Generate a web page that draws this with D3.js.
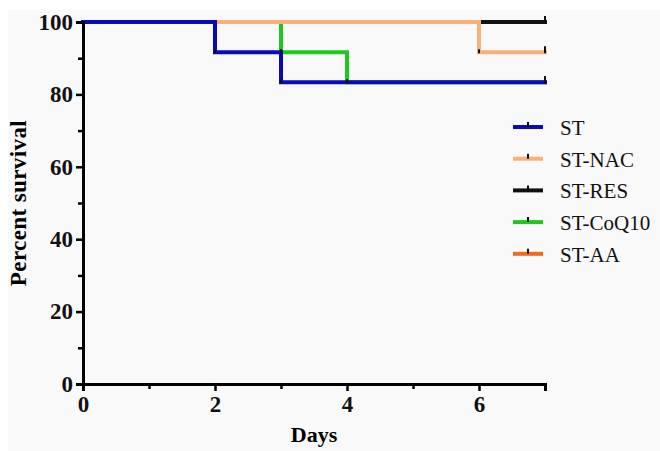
<!DOCTYPE html>
<html>
<head>
<meta charset="utf-8">
<script src="https://cdn.jsdelivr.net/npm/d3@7"></script>
<style>
  body { margin: 0; background: #fff; }
  text { font-family: "Liberation Serif", "DejaVu Serif", serif; }
</style>
</head>
<body>
<svg id="chart" width="660" height="451"></svg>
<script>
// Series names and colours
const seriesNames = ["ST", "ST-NAC", "ST-RES", "ST-CoQ10", "ST-AA"];
const seriesColors = ["#0a0ab8", "#f6b27a", "#111111", "#1ec81e", "#f26a1b"];

// Step points (day, percent survival) per series
const stData = [[0, 100], [2, 91.67], [3, 83.33], [7, 83.33]];
const nacData = [[0, 100], [6, 91.67], [7, 91.67]];
const resData = [[0, 100], [7, 100]];
const coqData = [[0, 100], [3, 91.67], [4, 83.33], [7, 83.33]];
const aaData = [[0, 100], [7, 100]];

const xTicks = [0, 2, 4, 6];
const xMinor = [1, 3, 5, 7];
const yTicks = [0, 20, 40, 60, 80, 100];
const yMinor = [10, 30, 50, 70, 90];

const svg = d3.select("#chart");

// light grey backdrop like the scanned figure
svg.append("rect").attr("x", 8).attr("y", 10).attr("width", 652).attr("height", 441)
  .attr("fill", "#f9f9f9");

const x = d3.scaleLinear().domain([0, 7]).range([83, 545]);
const y = d3.scaleLinear().domain([0, 100]).range([384, 22]);

const allData = [stData, nacData, resData, coqData, aaData];

const line = d3.line()
  .x(d => x(d[0]))
  .y(d => y(d[1]))
  .curve(d3.curveStepAfter);

// draw bottom-to-top: AA, RES, CoQ10, NAC, ST
const order = [4, 2, 3, 1, 0];
order.forEach(i => {
  svg.append("path")
    .attr("d", line(allData[i]))
    .attr("fill", "none")
    .attr("stroke", seriesColors[i])
    .attr("stroke-width", 4)
    .attr("stroke-linejoin", "miter")
    .attr("stroke-linecap", "square");
});

// small black marks at step corners and censor ticks at the end
order.forEach(i => {
  const d = allData[i];
  for (let k = 1; k < d.length; k++) {
    if (d[k][1] !== d[k - 1][1]) {
      svg.append("line")
        .attr("x1", x(d[k][0])).attr("x2", x(d[k][0]))
        .attr("y1", y(d[k][1]) - 3).attr("y2", y(d[k][1]) + 1)
        .attr("stroke", "#111").attr("stroke-width", 2);
    }
  }
  const last = d[d.length - 1];
  svg.append("line")
    .attr("x1", x(last[0])).attr("x2", x(last[0]))
    .attr("y1", y(last[1]) - 6).attr("y2", y(last[1]) + 1)
    .attr("stroke", "#111").attr("stroke-width", 2);
});

const fmt = d3.format("d");

// Y axis
const yAxis = svg.append("g").attr("transform", "translate(83,0)")
  .call(d3.axisLeft(y).tickValues(yTicks).tickFormat(fmt).tickSize(7).tickPadding(3));
svg.append("g").attr("transform", "translate(83,0)")
  .call(d3.axisLeft(y).tickValues(yMinor).tickSize(5).tickFormat(""))
  .call(g => g.select(".domain").remove())
  .selectAll("line").attr("stroke-width", 2.5);

// X axis
const xAxis = svg.append("g").attr("transform", "translate(0,384)")
  .call(d3.axisBottom(x).tickValues(xTicks).tickFormat(fmt).tickSize(7).tickPadding(5));
svg.append("g").attr("transform", "translate(0,384)")
  .call(d3.axisBottom(x).tickValues(xMinor).tickSize(5).tickFormat(""))
  .call(g => g.select(".domain").remove())
  .selectAll("line").attr("stroke-width", 2.5);

[xAxis, yAxis].forEach(g => {
  g.select(".domain").attr("stroke", "#000").attr("stroke-width", 3);
  g.selectAll(".tick line").attr("stroke", "#000").attr("stroke-width", 2.5);
  g.selectAll(".tick text")
    .style("font-family", "'Liberation Serif', serif")
    .style("font-size", "23px")
    .style("font-weight", "bold")
    .attr("fill", "#111");
});

// axis titles
svg.append("text")
  .attr("x", x(3.5)).attr("y", 442)
  .attr("text-anchor", "middle")
  .attr("font-size", 22).attr("font-weight", "bold")
  .text("Days");

svg.append("text")
  .attr("transform", `translate(26,${y(50)}) rotate(-90)`)
  .attr("text-anchor", "middle")
  .attr("font-size", 23).attr("font-weight", "bold")
  .attr("letter-spacing", 0.4)
  .text("Percent survival");

// legend
const legend = svg.append("g").attr("transform", "translate(513,127)");
seriesNames.forEach((name, i) => {
  const g = legend.append("g").attr("transform", `translate(0,${i * 31.7})`);
  g.append("line").attr("x1", 0).attr("x2", 30).attr("y1", 0).attr("y2", 0)
    .attr("stroke", seriesColors[i]).attr("stroke-width", 4);
  g.append("line").attr("x1", 15).attr("x2", 15).attr("y1", -5).attr("y2", 0)
    .attr("stroke", "#111").attr("stroke-width", 2);
  g.append("text").attr("x", 47).attr("y", 8)
    .attr("font-size", 21).attr("fill", "#111")
    .text(name);
});
</script>
</body>
</html>
